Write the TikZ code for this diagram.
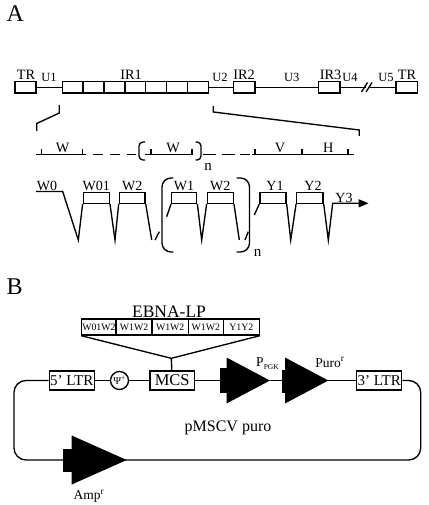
\documentclass[tikz,border=0pt]{standalone}
\usepackage{fontspec}
\setmainfont{Liberation Serif}
\usetikzlibrary{arrows.meta}

\begin{document}
\begin{tikzpicture}[x=1pt,y=-1pt,line width=1.35pt,
    lab/.style={font=\fontsize{14.3}{14.3}\selectfont,inner sep=0pt,anchor=base},
    ulab/.style={font=\fontsize{12.5}{12.5}\selectfont,inner sep=0pt,anchor=base},
    gbox/.style={draw,inner sep=0pt,minimum height=11.5pt},
    exon/.style={draw,inner sep=0pt,minimum height=10.6pt},
    cell/.style={draw,inner sep=0pt,minimum height=16pt,font=\fontsize{9.8}{9.8}\selectfont},
    vbox/.style={draw,inner sep=0pt,minimum height=19pt,minimum width=45pt,font=\fontsize{15}{15}\selectfont},
    prom/.style={fill=black,draw=none}]
  \useasboundingbox (0,0) rectangle (428,505);

  \node[inner sep=0pt,anchor=base west,font=\fontsize{24}{24}\selectfont] (panA) at (6,21.7) {A};
  \node[inner sep=0pt,anchor=base west,font=\fontsize{24}{24}\selectfont] (panB) at (6,294.3) {B};

  \node[gbox,minimum width=21pt] (tr1) at (25.5,87.2) {};
  \foreach \i in {1,...,7}
    \node[gbox,minimum width=20.86pt] (ir1-\i) at ({62.3+20.86*(\i-0.5)},87.2) {};
  \node[gbox,minimum width=21.7pt] (ir2) at (244.2,87.2) {};
  \node[gbox,minimum width=21.7pt] (ir3) at (329.2,87.2) {};
  \node[gbox,minimum width=21.3pt] (tr2) at (406.7,87.2) {};
  \coordinate (brkA) at (365.5,87.2);
  \coordinate (brkB) at (370,87.2);
  \draw (tr1) -- (ir1-1);
  \draw (ir1-7) -- (ir2);
  \draw (ir2) -- (ir3);
  \draw (ir3) -- (brkA);
  \draw (brkB) -- (tr2);
  \draw (361.5,92) -- (367.5,82.5);
  \draw (366,92) -- (372,82.5);
  \node[lab] (tTR1) at (26,79.5) {TR};
  \node[ulab] (tU1) at (49,82) {U1};
  \node[lab] (tIR1) at (131,79.5) {IR1};
  \node[ulab] (tU2) at (220,82) {U2};
  \node[lab] (tIR2) at (244,79.5) {IR2};
  \node[ulab] (tU3) at (291.7,82) {U3};
  \node[lab] (tIR3) at (330.5,79.5) {IR3};
  \node[ulab] (tU4) at (350,82) {U4};
  \node[ulab] (tU5) at (386,82) {U5};
  \node[lab] (tTR2) at (407,79.5) {TR};

  \draw (59.3,105) -- (59.3,113) -- (36.7,123.5) -- (36.7,131);
  \draw (213.3,106) -- (213.3,112) -- (359.3,130) -- (359.3,136);

  \draw (36,154.7) -- (86,154.7);
  \foreach \x in {41.5,82.5} \draw (\x,154.7) -- (\x,149);
  \draw[dash pattern=on 10pt off 7pt] (93,154.7) -- (136,154.7);
  \draw[rounded corners=4pt] (145,142) -- (139,142) -- (139,160) -- (145,160);
  \draw (145,154.7) -- (193,154.7);
  \foreach \x in {151,192} \draw (\x,154.7) -- (\x,149);
  \draw[rounded corners=4pt] (195.5,142) -- (201,142) -- (201,160) -- (195.5,160);
  \draw[dash pattern=on 13pt off 5.5pt] (203,154.7) -- (250,154.7);
  \draw (252,154.7) -- (354,154.7);
  \foreach \x in {255,302,348} \draw (\x,154.7) -- (\x,149);
  \node[lab] (sW1) at (62.5,152.3) {W};
  \node[lab] (sW2) at (173,152.3) {W};
  \node[lab] (sV) at (280,152.3) {V};
  \node[lab] (sH) at (328.3,152.3) {H};
  \node[lab,font=\fontsize{15}{15}\selectfont] (sn) at (208,170) {n};

  \node[exon,minimum width=26pt] (exW01) at (96.3,198) {};
  \node[exon,minimum width=25.7pt] (exW2a) at (132.2,198) {};
  \node[exon,minimum width=25pt] (exW1) at (184.2,198) {};
  \node[exon,minimum width=26pt] (exW2b) at (220.3,198) {};
  \node[exon,minimum width=26pt] (exY1) at (273,198) {};
  \node[exon,minimum width=26.3pt] (exY2) at (309.9,198) {};
  \coordinate (w0) at (36,191.5);
  \coordinate (y3) at (368.5,203.3);
  \draw (w0) -- (62.7,191.5) -- (78.3,240) -- (exW01.south west);
  \draw (exW01.south east) -- (115,240) -- (exW2a.south west);
  \draw (exW2a.south east) -- (151.7,240);
  \draw (155,240) -- (159.3,231.7);
  \draw (166.7,216.7) -- (exW1.south west);
  \draw (exW1.south east) -- (201.7,240) -- (exW2b.south west);
  \draw (exW2b.south east) -- (239.3,240);
  \draw (245,240) -- (248.3,231.7);
  \draw (254.3,215) -- (exY1.south west);
  \draw (exY1.south east) -- (290.7,240) -- (exY2.south west);
  \draw[-{Triangle[length=10pt,width=8pt]}] (exY2.south east) -- (328.3,240) -- (332.7,203.3) -- (y3);
  \draw[rounded corners=9pt] (173.3,178) -- (162,178) -- (162,252) -- (173.3,252);
  \draw[rounded corners=9pt] (236.7,178) -- (249.5,178) -- (249.5,252) -- (236.7,252);
  \node[lab,font=\fontsize{15}{15}\selectfont] (bn) at (257.5,256.7) {n};
  \node[lab,font=\fontsize{14}{14}\selectfont] (eW0) at (47,190) {W0};
  \node[lab,font=\fontsize{14}{14}\selectfont] (eW01) at (96.3,190.5) {W01};
  \node[lab,font=\fontsize{14}{14}\selectfont] (eW2a) at (132.2,190.5) {W2};
  \node[lab,font=\fontsize{14}{14}\selectfont] (eW1) at (184,190.5) {W1};
  \node[lab,font=\fontsize{14}{14}\selectfont] (eW2b) at (220.3,190.5) {W2};
  \node[lab,font=\fontsize{14}{14}\selectfont] (eY1) at (275,190.5) {Y1};
  \node[lab,font=\fontsize{14}{14}\selectfont] (eY2) at (313,190.5) {Y2};
  \node[lab,font=\fontsize{14}{14}\selectfont] (eY3) at (344,202) {Y3};

  \node[lab,font=\fontsize{17.5}{17.5}\selectfont] (ebna) at (169,317.3) {EBNA-LP};
  \node[cell,minimum width=34.3pt] (c1) at (98.85,327) {W01W2};
  \node[cell,minimum width=36pt] (c2) at (134,327) {W1W2};
  \node[cell,minimum width=36.3pt] (c3) at (170.15,327) {W1W2};
  \node[cell,minimum width=35pt] (c4) at (205.8,327) {W1W2};
  \node[cell,minimum width=36pt] (c5) at (241.3,327) {Y1Y2};
  \coordinate (fun) at (171.3,358.3);
  \draw (c1.south west) -- (fun) -- (c5.south east);

  \node[vbox] (ltr5) at (71.7,380.5) {5’ LTR};
  \node[draw,circle,inner sep=0pt,minimum size=18pt,font=\fontsize{10.5}{10.5}\selectfont] (psi) at (119.5,380.5) {Ψ\textsuperscript{+}};
  \node[vbox,minimum width=44.3pt,font=\fontsize{16.5}{16.5}\selectfont] (mcs) at (172.2,380.5) {MCS};
  \node[vbox] (ltr3) at (379.2,380.5) {3’ LTR};
  \draw (fun) -- (mcs);
  \coordinate (pgkS) at (220,380.5);
  \coordinate (pgkT) at (270,380.5);
  \coordinate (purS) at (281.7,380.5);
  \coordinate (purT) at (328.3,380.5);
  \fill[prom] (220,368) rectangle (227,393);
  \fill[prom] (226.5,357.5) -- (pgkT) -- (226.5,403.5) -- cycle;
  \fill[prom] (281.7,369.5) rectangle (285.5,392.5);
  \fill[prom] (285,357.5) -- (purT) -- (285,403.5) -- cycle;
  \fill[prom] (63.3,448.5) rectangle (72,472);
  \fill[prom] (71.7,435.5) -- (126.7,460) -- (71.7,484.5) -- cycle;
  \draw (ltr5) -- (psi);
  \draw (psi) -- (mcs);
  \draw (mcs) -- (pgkS);
  \draw (pgkT) -- (purS);
  \draw (purT) -- (ltr3);
  \draw[rounded corners=12pt] (ltr5.west) -- (14,380.5) -- (14,460) -- (420.7,460) -- (420.7,380.5) -- (ltr3.east);
  \node[lab,font=\fontsize{13.5}{13.5}\selectfont] (lpgk) at (267.5,366.7) {P{\fontsize{7.5}{7.5}\selectfont\raisebox{-2.5pt}{PGK}}};
  \node[lab,font=\fontsize{13.5}{13.5}\selectfont] (lpuro) at (330,367) {Puro\textsuperscript{r}};
  \node[lab,font=\fontsize{13.5}{13.5}\selectfont] (lamp) at (89,499.5) {Amp\textsuperscript{r}};
  \node[lab,font=\fontsize{16}{16}\selectfont] (lpm) at (228,431.5) {pMSCV puro};
\end{tikzpicture}
\end{document}
